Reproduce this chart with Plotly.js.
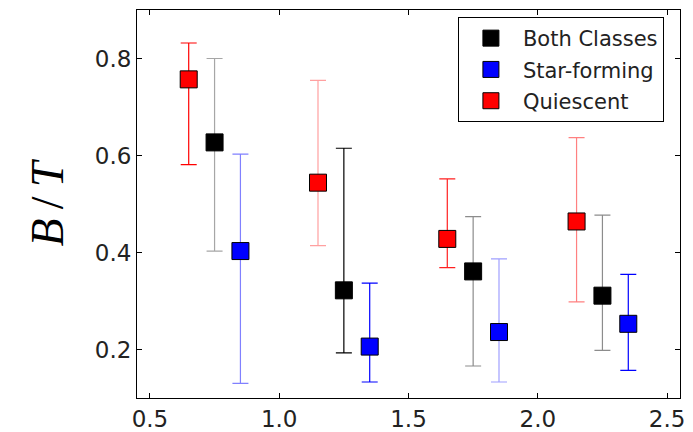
<!DOCTYPE html>
<html>
<head>
<meta charset="utf-8">
<script src="https://cdn.plot.ly/plotly-3.0.1.min.js"></script>
<style>html,body{margin:0;padding:0;background:#fff;}#chart{width:693px;height:432px;}</style>
</head>
<body>
<div id="chart"></div>
<script>
// Data
const seriesNames = ["Both Classes", "Star-forming", "Quiescent"];
const xBoth = [0.75, 1.25, 1.75, 2.25];
const yBoth = [0.627, 0.322, 0.361, 0.311];
const hiBoth = [0.800, 0.615, 0.474, 0.477];
const loBoth = [0.403, 0.193, 0.166, 0.198];

const xSF = [0.85, 1.35, 1.85, 2.35];
const ySF = [0.403, 0.206, 0.236, 0.253];
const hiSF = [0.603, 0.337, 0.387, 0.355];
const loSF = [0.130, 0.133, 0.133, 0.157];

const xQ = [0.65, 1.15, 1.65, 2.15];
const yQ = [0.757, 0.544, 0.428, 0.464];
const hiQ = [0.832, 0.755, 0.552, 0.637];
const loQ = [0.581, 0.414, 0.369, 0.298];

const xTicks = [0.5, 1.0, 1.5, 2.0, 2.5];
const yTicks = [0.2, 0.4, 0.6, 0.8];

// Styles
const markerColors = ["#000000", "#0000ff", "#ff0000"];
const errColors = [
  ["#a6a6a6", "#000000", "#8c8c8c", "#8c8c8c"],
  ["#8080ff", "#0000ff", "#a0a0ff", "#0000ff"],
  ["#ff0000", "#ffa0a0", "#ff2020", "#ff8080"]
];

const series = [
  {x: xBoth, y: yBoth, hi: hiBoth, lo: loBoth},
  {x: xSF, y: ySF, hi: hiSF, lo: loSF},
  {x: xQ, y: yQ, hi: hiQ, lo: loQ}
];

const traces = [];
series.forEach((s, k) => {
  s.x.forEach((xv, i) => {
    traces.push({
      x: [xv], y: [s.y[i]], type: 'scatter', mode: 'markers',
      marker: {size: 2, opacity: 0},
      error_y: {type: 'data', symmetric: false,
        array: [s.hi[i] - s.y[i]], arrayminus: [s.y[i] - s.lo[i]],
        color: errColors[k][i], thickness: 1.2, width: 8},
      showlegend: false, hoverinfo: 'skip'
    });
  });
});
series.forEach((s, k) => {
  traces.push({
    x: s.x, y: s.y, type: 'scatter', mode: 'markers', name: seriesNames[k],
    legendgroup: 'g' + k,
    marker: {symbol: 'square', size: 17, color: markerColors[k], line: {color: '#000', width: 1}}
  });
});

const axisFont = {family: 'DejaVu Sans', size: 23, color: '#222'};
const layout = {
  width: 693, height: 432,
  margin: {l: 137, r: 13, t: 10, b: 34, pad: 0},
  paper_bgcolor: '#fff', plot_bgcolor: '#fff',
  showlegend: true,
  legend: {x: 0.591, y: 0.982, xanchor: 'left', yanchor: 'top',
    bgcolor: '#fff', bordercolor: '#000', borderwidth: 1,
    font: {family: 'DejaVu Sans', size: 21, color: '#222'},
    itemwidth: 54, traceorder: 'grouped', tracegroupgap: 1},
  xaxis: {range: [0.45, 2.55], tickvals: xTicks, ticktext: xTicks.map(v => v.toFixed(1)),
    ticks: 'inside', ticklen: 5, tickcolor: '#000', showline: true, linecolor: '#000', linewidth: 1,
    mirror: 'ticks', showgrid: false, zeroline: false, tickfont: axisFont},
  yaxis: {range: [0.1, 0.9], tickvals: yTicks, ticktext: yTicks.map(v => v.toFixed(1)),
    ticks: 'inside', ticklen: 5, tickcolor: '#000', showline: true, linecolor: '#000', linewidth: 1,
    mirror: 'ticks', showgrid: false, zeroline: false, tickfont: axisFont,
    title: {text: '<i>B</i>\u2009/\u2009<i>T</i>', font: {family: 'Liberation Serif', size: 46, color: '#000'}, standoff: 16}}
};

Plotly.newPlot('chart', traces, layout, {displayModeBar: false, staticPlot: true});
</script>
</body>
</html>
